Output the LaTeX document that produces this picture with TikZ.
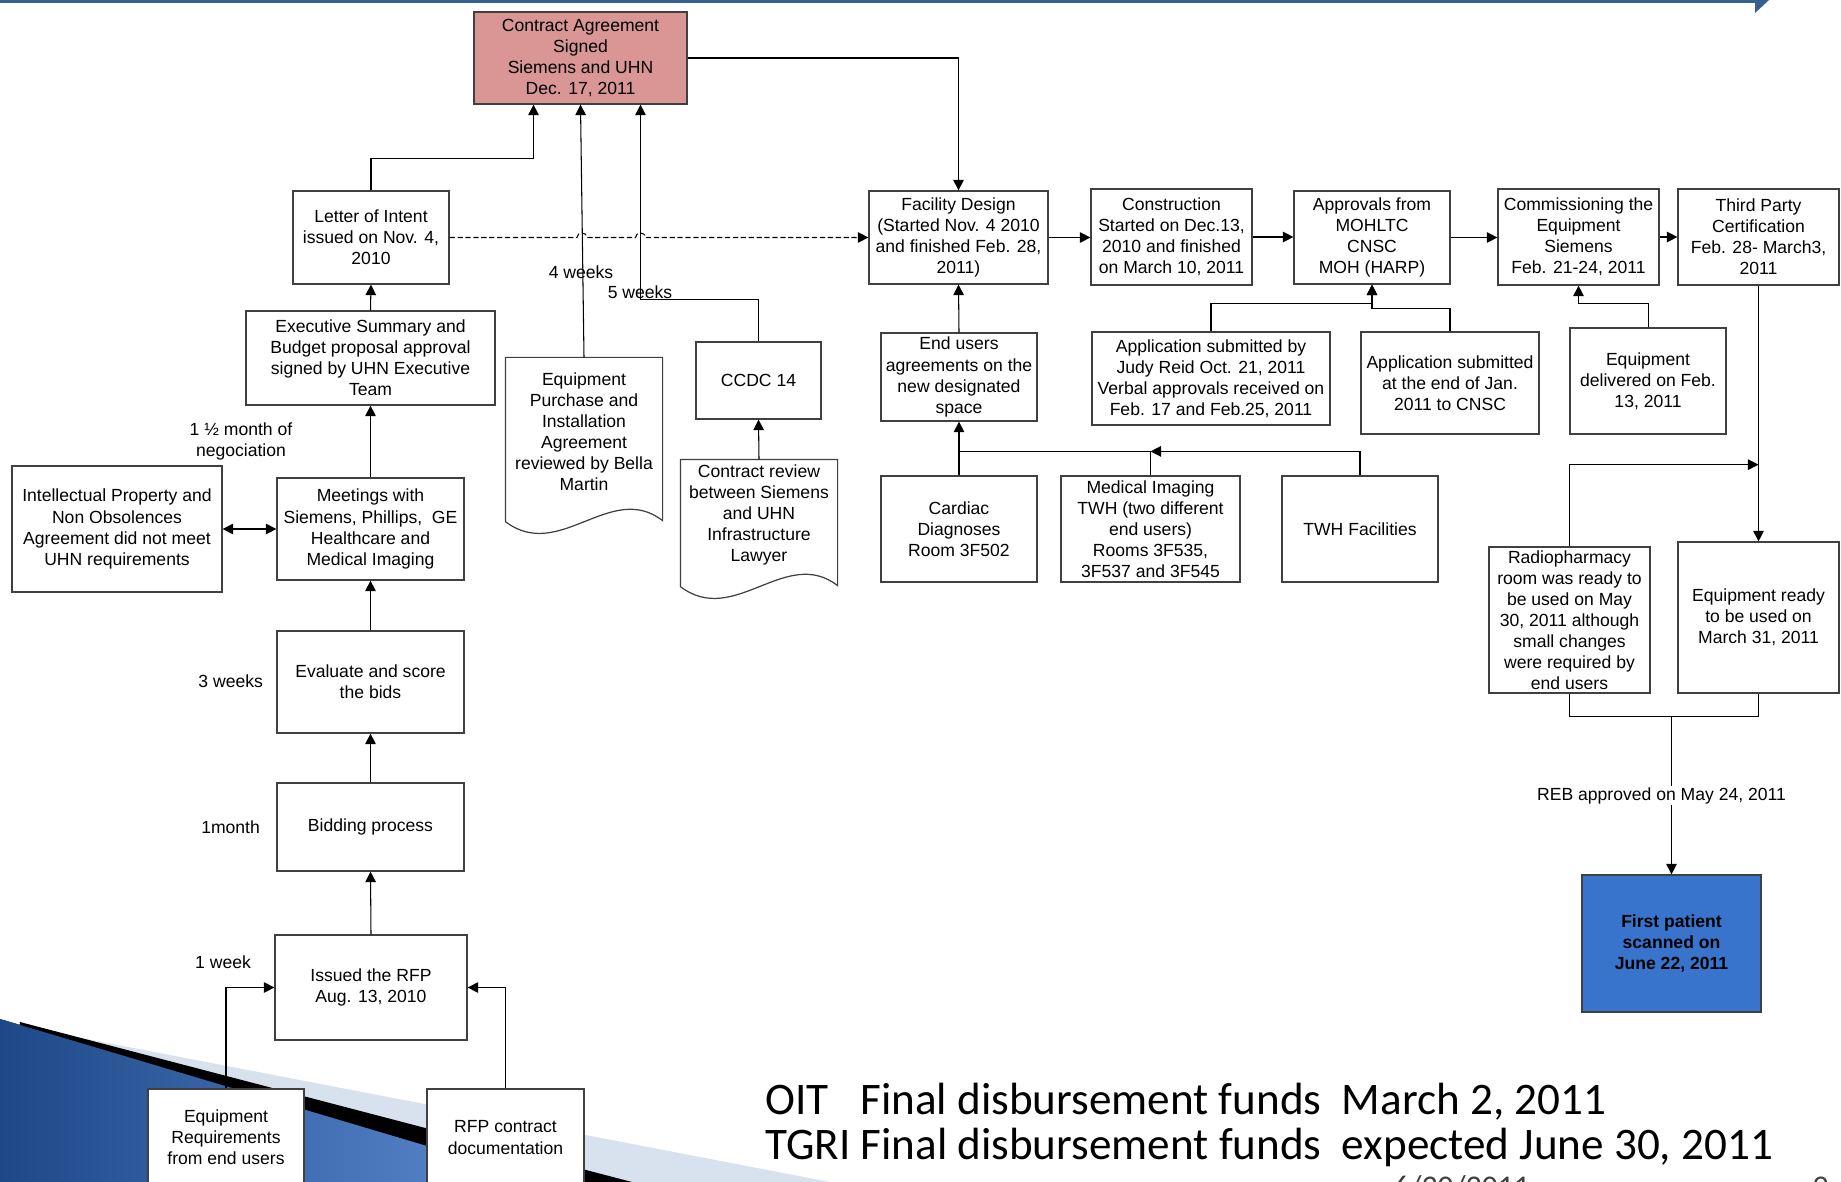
\documentclass[tikz,border=0pt]{standalone}
\usepackage{fontspec}
\setmainfont{Liberation Sans}
\newfontfamily\slidefont{Carlito}
\usetikzlibrary{arrows.meta,calc}

\definecolor{contractred}{RGB}{217,150,148}
\definecolor{scanblue}{RGB}{56,116,204}
\definecolor{slideblue}{RGB}{55,96,146}
\definecolor{swooshdark}{RGB}{30,72,136}
\definecolor{swooshlight}{RGB}{95,140,212}
\definecolor{swooshpale}{RGB}{216,225,238}

% box given by its corners (in picture units)
\newcommand\procbox[7][]{%
  \pgfmathsetmacro\boxw{(#5-#3)*0.02}%
  \pgfmathsetmacro\boxh{(#6-#4)*0.02}%
  \node[stage,#1,minimum width=\boxw cm,minimum height=\boxh cm] (#2) at ({(#3+#5)/2},{(#4+#6)/2}) {#7};}

% document outline with wavy bottom round a node
\newcommand\wavydoc[1]{%
  \draw[boxline] ($(#1.south west)+(0,16)$) -- (#1.north west) -- (#1.north east)
    -- ($(#1.south east)+(0,15)$) .. controls +(-52,-40) and +(54,41) .. ($(#1.south west)+(0,16)$) -- cycle;}

\begin{document}
\begin{tikzpicture}[x=0.02cm,y=-0.02cm,
  boxline/.style={draw=black!75, line width=0.7pt},
  stage/.style={boxline, fill=white, align=center, inner sep=1pt, font=\fontsize{10}{12}\selectfont},
  docpart/.style={stage, draw=none, fill=none},
  link/.style={line width=0.6pt},
  flow/.style={link, -{Triangle[length=6pt,width=6pt]}},
  lead/.style={font=\fontsize{10}{12}\selectfont, align=center, inner sep=1pt}]

\useasboundingbox (0,0) rectangle (1841,1182);
\clip (0,0) rectangle (1841,1182);

% slide decoration
\fill[slideblue] (0,0) rectangle (1755,3);
\fill[slideblue] (1755,0) -- (1769,0) -- (1755,13) -- cycle;
\fill[swooshpale] (40,1030) -- (830,1182) -- (0,1182) -- cycle;
\fill[black] (20,1022) -- (632,1182) -- (0,1182) -- cycle;
\fill[left color=swooshdark, right color=swooshlight] (0,1019) -- (548,1182) -- (0,1182) -- cycle;

% procurement side
\procbox[fill=contractred]{contract}{474}{12}{687}{104}{Contract Agreement\\Signed\\Siemens and UHN\\Dec. 17, 2011}
\procbox{loi}{293}{191}{449}{284}{Letter of Intent\\issued on Nov. 4,\\2010}
\procbox{exec}{246}{311}{495}{405}{Executive Summary and\\Budget proposal approval\\signed by UHN Executive\\Team}
\procbox[docpart]{eqpa}{506}{358}{662}{505}{Equipment\\Purchase and\\Installation\\Agreement\\reviewed by Bella\\Martin}
\procbox{ccdc}{696}{342}{821}{419}{CCDC 14}
\procbox[docpart]{review}{681}{460}{837}{570}{Contract review\\between Siemens\\and UHN\\Infrastructure\\Lawyer}
\procbox{ip}{12}{466}{222}{592}{Intellectual Property and\\Non Obsolences\\Agreement did not meet\\UHN requirements}
\procbox{meet}{277}{478}{464}{580}{Meetings with\\Siemens, Phillips,\ \ GE\\Healthcare and\\Medical Imaging}
\procbox{eval}{277}{631}{464}{733}{Evaluate and score\\the bids}
\procbox{bid}{277}{783}{464}{871}{Bidding process}
\procbox{rfp}{275}{935}{467}{1040}{Issued the RFP\\Aug. 13, 2010}
\procbox{eqreq}{148}{1089}{304}{1186}{Equipment\\Requirements\\from end users}
\procbox{rfpdoc}{427}{1089}{584}{1186}{RFP contract\\documentation}
\wavydoc{eqpa}
\wavydoc{review}

% site side
\procbox{facility}{869}{191}{1048}{284}{Facility Design\\(Started Nov. 4 2010\\and finished Feb. 28,\\2011)}
\procbox{constr}{1091}{189}{1252}{285}{Construction\\Started on Dec.13,\\2010 and finished\\on March 10, 2011}
\procbox{approv}{1294}{191}{1450}{284}{Approvals from\\MOHLTC\\CNSC\\MOH (HARP)}
\procbox{commis}{1498}{189}{1659}{285}{Commissioning the\\Equipment\\Siemens\\Feb. 21-24, 2011}
\procbox{third}{1678}{189}{1839}{285}{Third Party\\Certification\\Feb. 28- March3,\\2011}
\procbox{endusers}{881}{333}{1037}{421}{End users\\agreements on the\\new designated\\space}
\procbox{judy}{1092}{332}{1330}{425}{Application submitted by\\Judy Reid Oct. 21, 2011\\Verbal approvals received on\\Feb. 17 and Feb.25, 2011}
\procbox{cnsc}{1361}{332}{1539}{434}{Application submitted\\at the end of Jan.\\2011 to CNSC}
\procbox{deliv}{1570}{328}{1726}{434}{Equipment\\delivered on Feb.\\13, 2011}
\procbox{cardiac}{881}{476}{1037}{582}{Cardiac\\Diagnoses\\Room 3F502}
\procbox{medimg}{1061}{476}{1240}{582}{Medical Imaging\\TWH (two different\\end users)\\Rooms 3F535,\\3F537 and 3F545}
\procbox{twh}{1282}{476}{1438}{582}{TWH Facilities}
\procbox{radio}{1489}{547}{1650}{693}{Radiopharmacy\\room was ready to\\be used on May\\30, 2011 although\\small changes\\were required by\\end users}
\procbox{ready}{1678}{542}{1839}{693}{Equipment ready\\to be used on\\March 31, 2011}
\procbox[fill=scanblue,font=\bfseries\fontsize{10}{12}\selectfont]{scan}{1582}{875}{1761}{1012}{First patient\\scanned on\\June 22, 2011}

% durations
\node[lead] (wk4) at (581,272) {4 weeks};
\node[lead] (wk5) at (640,292) {5 weeks};
\node[lead] (nego) at (241,441) {1 ½ month of\\negociation};
\node[lead,anchor=east] (wk3) at (265,681) {3 weeks};
\node[lead,anchor=east] (mo1) at (262,827) {1month};
\node[lead,anchor=east] (wk1) at (253,962) {1 week};

% connectors
\draw[flow] (loi.north) -- ++(0,-32) -| ($(contract.south)+(-47,0)$);
\draw[flow] (eqpa.north) -- (contract.south);
\draw[flow] (ccdc.north) -- ++(0,-42) -| ($(contract.south)+(60,0)$);
\draw[flow] (contract.east) -| (facility.north);
\draw[flow, dash pattern=on 3pt off 1.5pt] (loi.east) -- (577,237.5)
  .. controls +(0,-6) and +(0,-6) .. (587,237.5) -- (635.5,237.5)
  .. controls +(0,-6) and +(0,-6) .. (645.5,237.5) -- (facility.west);
\draw[flow] (exec.north) -- (loi.south);
\draw[flow] (meet.north) -- (exec.south);
\draw[link, {Triangle[length=6pt,width=6pt]}-{Triangle[length=6pt,width=6pt]}] (ip.east) -- (meet.west);
\draw[flow] (eval.north) -- (meet.south);
\draw[flow] (bid.north) -- (eval.south);
\draw[flow] (rfp.north) -- (bid.south);
\draw[flow] (eqreq.north) |- (rfp.west);
\draw[flow] (rfpdoc.north) |- (rfp.east);
\draw[flow] (review.north) -- (ccdc.south);

\draw[flow] (facility.east) -- (facility.east -| constr.west);
\draw[flow] (constr.east) -- (constr.east -| approv.west);
\draw[flow] (approv.east) -- (approv.east -| commis.west);
\draw[flow] (commis.east) -- (commis.east -| third.west);
\draw[flow] (endusers.north) -- (facility.south);
\draw[flow] (cardiac.north) -- (endusers.south);
\coordinate (imgjoin) at ($(medimg.north)+(0,-24)$);
\draw[link] (medimg.north) -- (imgjoin);
\draw[flow] (twh.north) |- (imgjoin);
\draw[link] (imgjoin) -- (imgjoin -| cardiac.north);
\draw[flow] (judy.north) -- ++(0,-28) -| (approv.south);
\draw[flow] (cnsc.north) -- ++(0,-23) -| (approv.south);
\draw[flow] (deliv.north) -- ++(0,-24) -| (commis.south);
\draw[flow] (third.south) -- (ready.north);
\draw[flow] (radio.north) |- ($(third.south)!0.7!(ready.north)$);
\draw[link] (radio.south) -- ++(0,23) -| (ready.south);
\coordinate (rebsplit) at ($(scan.north |- radio.south)+(0,23)$);
\draw[flow] (rebsplit) -- node[lead, fill=white, xshift=-0.2cm] (reb) {REB approved on May 24, 2011} (scan.north);

% funding notes and footer
\node[anchor=base west, inner sep=0pt, font=\slidefont\fontsize{25.7}{26}\selectfont] (funds) at (765,1114)
  {\begin{tabular}[t]{@{}l@{ }l@{\ \ }l@{}}
   OIT & Final disbursement funds & March 2, 2011\\
   TGRI & Final disbursement funds & expected June 30, 2011
   \end{tabular}};
\node[anchor=base west, inner sep=0pt, font=\slidefont\fontsize{18}{18}\selectfont, text=black!75] (footdate) at (1393,1197) {6/30/2011};
\node[anchor=base west, inner sep=0pt, font=\slidefont\fontsize{18}{18}\selectfont, text=black!75] (footpage) at (1812,1197) {9};
\end{tikzpicture}
\end{document}
